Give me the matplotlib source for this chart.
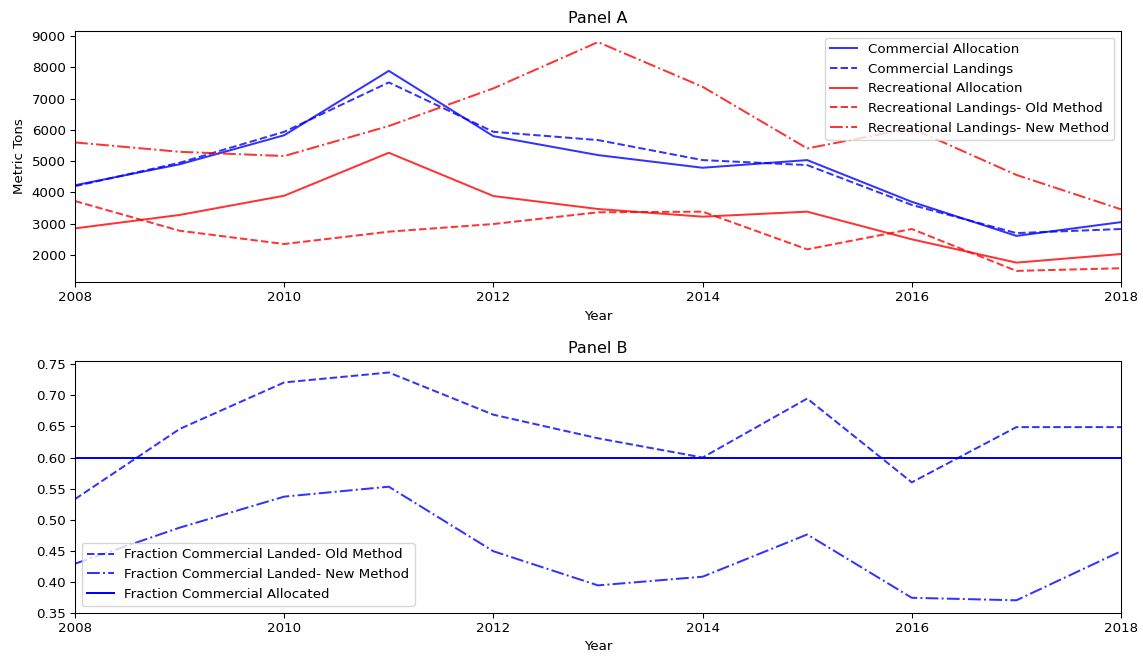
import matplotlib.pyplot as plt
import numpy as np

# === data ===
years = np.arange(2008, 2019)

comm_alloc = [4230, 4900, 5830, 7890, 5800, 5195, 4790, 5035, 3700, 2610, 3050]
comm_land = [4200, 4950, 5940, 7520, 5940, 5675, 5035, 4875, 3600, 2700, 2830]
rec_alloc = [2850, 3280, 3895, 5270, 3885, 3470, 3225, 3385, 2500, 1755, 2030]
rec_land_old = [3725, 2775, 2350, 2745, 2990, 3365, 3385, 2180, 2830, 1490, 1575]
rec_land_new = [5600, 5300, 5165, 6125, 7330, 8810, 7380, 5410, 6050, 4560, 3460]

frac_old = [0.533, 0.646, 0.721, 0.737, 0.669, 0.631, 0.600, 0.695, 0.560, 0.649, 0.649]
frac_new = [0.429, 0.487, 0.537, 0.553, 0.449, 0.394, 0.408, 0.476, 0.374, 0.370, 0.449]
frac_alloc = 0.60

DPI = 96
plt.rcParams['font.size'] = 10
fig = plt.figure(figsize=(1143 / DPI, 658 / DPI), dpi=DPI)
ax1 = fig.add_axes([75 / 1143, 1 - 282 / 658, (1121 - 75) / 1143, (282 - 31) / 658])
ax2 = fig.add_axes([75 / 1143, 1 - 612.7 / 658, (1121 - 75) / 1143, (612.7 - 360.7) / 658])

# === Panel A ===
ax1.plot(years, comm_alloc, 'b-', alpha=0.8, label='Commercial Allocation')
ax1.plot(years, comm_land, 'b--', alpha=0.8, label='Commercial Landings')
ax1.plot(years, rec_alloc, 'r-', alpha=0.8, label='Recreational Allocation')
ax1.plot(years, rec_land_old, 'r--', alpha=0.8, label='Recreational Landings- Old Method')
ax1.plot(years, rec_land_new, 'r-.', alpha=0.8, label='Recreational Landings- New Method')
ax1.set_xlim(2008, 2018)
ax1.set_ylim(1135, 9165)
ax1.set_xticks([2008, 2010, 2012, 2014, 2016, 2018])
ax1.set_yticks(range(2000, 9001, 1000))
ax1.set_xlabel('Year')
ax1.set_ylabel('Metric Tons')
ax1.set_title('Panel A')
ax1.legend(loc='upper right')

# === Panel B ===
ax2.plot(years, frac_old, 'b--', alpha=0.8, label='Fraction Commercial Landed- Old Method')
ax2.plot(years, frac_new, 'b-.', alpha=0.8, label='Fraction Commercial Landed- New Method')
ax2.axhline(frac_alloc, color='b', label='Fraction Commercial Allocated')
ax2.set_xlim(2008, 2018)
ax2.set_ylim(0.35, 0.756)
ax2.set_xticks([2008, 2010, 2012, 2014, 2016, 2018])
ax2.set_yticks(np.arange(0.35, 0.751, 0.05))
ax2.set_xlabel('Year')
ax2.set_title('Panel B')
ax2.legend(loc='lower left')

fig.savefig('out.png', dpi=DPI)
